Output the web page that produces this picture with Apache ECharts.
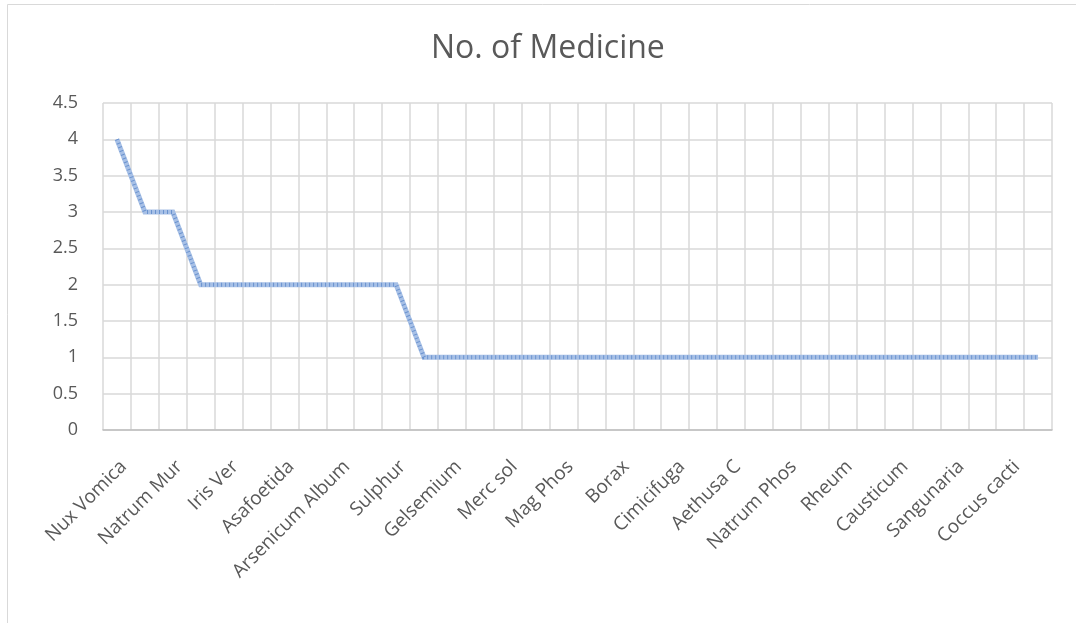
<!DOCTYPE html>
<html>
<head>
<meta charset="utf-8">
<script src="https://cdn.jsdelivr.net/npm/echarts@6/dist/echarts.min.js"></script>
<style>
  html, body { margin: 0; padding: 0; background: #fff; }
  #chart { width: 1076px; height: 623px; }
</style>
</head>
<body>
<div id="chart"></div>
<script>
// Remedies in the order they were tallied (every other name is printed on the axis)
const remedies = [
  'Nux Vomica', 'Bryonia', 'Natrum Mur', 'Belladonna', 'Iris Ver', 'Pulsatilla',
  'Asafoetida', 'Lycopodium', 'Arsenicum Album', 'Ignatia', 'Sulphur', 'Sepia',
  'Gelsemium', 'Silicea', 'Merc sol', 'Thuja', 'Mag Phos', 'China',
  'Borax', 'Chamomilla', 'Cimicifuga', 'Ipecac', 'Aethusa C', 'Phosphorus',
  'Natrum Phos', 'Spigelia', 'Rheum', 'Glonoine', 'Causticum', 'Kali Bich',
  'Sangunaria', 'Calc Carb', 'Coccus cacti', 'Colocynth'
];

// Number of medicines recorded for each remedy
const counts = [
  4, 3, 3, 2, 2, 2, 2, 2, 2, 2, 2, 1,
  1, 1, 1, 1, 1, 1, 1, 1, 1, 1, 1, 1,
  1, 1, 1, 1, 1, 1, 1, 1, 1, 1
];

const yTicks = { min: 0, max: 4.5, step: 0.5 };
const chartTitle = 'No. of Medicine';

const chart = echarts.init(document.getElementById('chart'), null, { renderer: 'canvas' });

const fontFamily = '"Open Sans", "Noto Sans", sans-serif';

chart.setOption({
  animation: false,
  backgroundColor: '#ffffff',
  graphic: [
    {
      type: 'rect',
      shape: { x: 7.5, y: 4.5, width: 1090, height: 640 },
      style: { fill: 'none', stroke: '#d9d9d9', lineWidth: 1 },
      silent: true
    },
    {
      type: 'text',
      left: 431,
      top: 33,
      style: {
        text: chartTitle,
        fill: '#595959',
        font: '32px ' + fontFamily
      }
    }
  ],
  grid: { left: 103, right: 24, top: 103, bottom: 193, containLabel: false },
  xAxis: {
    type: 'category',
    data: remedies,
    boundaryGap: true,
    axisLine: { show: true, lineStyle: { color: '#bfbfbf', width: 1.5 } },
    axisTick: { show: false },
    axisLabel: {
      interval: 1,
      rotate: 45,
      margin: 27,
      align: 'right',
      verticalAlign: 'top',
      color: '#595959',
      fontSize: 19,
      fontFamily: fontFamily
    },
    splitLine: { show: true, interval: 0, lineStyle: { color: '#d9d9d9', width: 1.5 } }
  },
  yAxis: {
    type: 'value',
    min: yTicks.min,
    max: yTicks.max,
    interval: yTicks.step,
    axisLine: { show: false },
    axisTick: { show: false },
    axisLabel: { margin: 25, color: '#595959', fontSize: 18, fontFamily: fontFamily },
    splitLine: { show: true, lineStyle: { color: '#d9d9d9', width: 1.5 } }
  },
  series: [
    {
      name: chartTitle,
      type: 'line',
      data: counts,
      symbol: 'none',
      z: 3,
      lineStyle: { color: '#a7c0e6', width: 5, cap: 'butt', join: 'miter' }
    },
    {
      // fine darker hatching drawn along the same line
      name: chartTitle + ' hatch',
      type: 'line',
      data: counts,
      symbol: 'none',
      z: 4,
      lineStyle: { color: '#5b87c9', width: 4, type: [1, 3], cap: 'butt', join: 'miter', opacity: 0.8 }
    }
  ]
});
</script>
</body>
</html>
